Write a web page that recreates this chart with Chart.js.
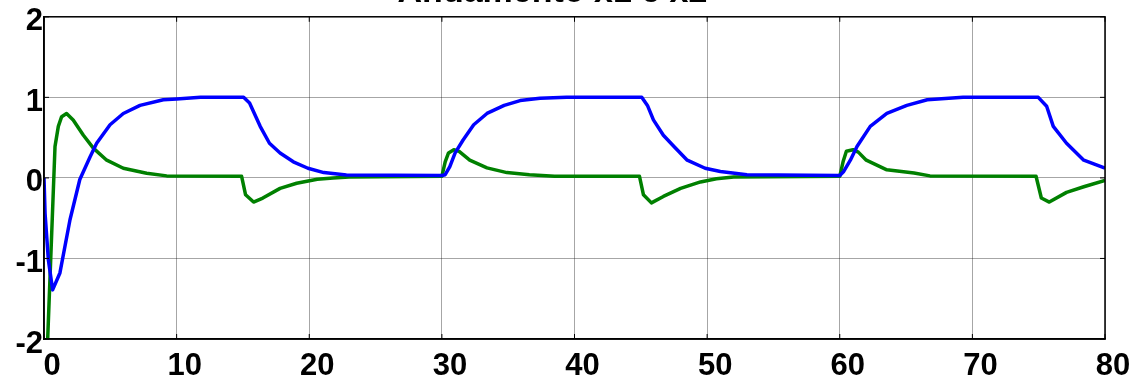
<!DOCTYPE html>
<html>
<head>
<meta charset="utf-8">
<script src="https://cdn.jsdelivr.net/npm/chart.js@4/dist/chart.umd.min.js"></script>
<style>
  body { margin: 0; background: #fff; overflow: hidden; }
  #wrap { position: relative; width: 1137px; height: 381px; overflow: hidden; }
  #chart { position: absolute; left: 0; top: -30px; }
</style>
</head>
<body>
<div id="wrap"><canvas id="chart" width="1137" height="411"></canvas></div>
<script>
// x1 (blu)
const x1Time = [0, 0.08, 0.33, 0.65, 1.2, 1.96, 2.7, 3.47, 3.97, 4.98, 5.98, 7.24, 9, 10, 11.8, 15.05,
  15.5, 16.3, 17, 17.8, 18.8, 19.9, 21.1, 22.8, 30,
  30.25, 30.6, 31, 31.6, 32.4, 33.4, 34.7, 35.9, 37.4, 39.4, 45.07,
  45.5, 45.95, 46.7, 47.5, 48.5, 49.85, 51, 53, 60,
  60.3, 60.8, 61.3, 62.3, 63.55, 65.06, 66.6, 69.3, 74.97,
  75.6, 76.1, 77.1, 78.4, 80];
const x1Val = [0, -0.44, -1.02, -1.39, -1.18, -0.52, -0.02, 0.26, 0.43, 0.66, 0.8, 0.9, 0.97, 0.98, 1.0, 1.0,
  0.93, 0.64, 0.43, 0.31, 0.2, 0.12, 0.066, 0.037, 0.03,
  0.04, 0.14, 0.31, 0.47, 0.66, 0.8, 0.9, 0.96, 0.99, 1.0, 1.0,
  0.9, 0.72, 0.53, 0.39, 0.22, 0.12, 0.08, 0.04, 0.03,
  0.08, 0.22, 0.39, 0.64, 0.8, 0.9, 0.97, 1.0, 1.0,
  0.89, 0.64, 0.43, 0.22, 0.12];

// x2 (verde)
const x2Time = [0, 0.83, 1.08, 1.33, 1.7, 2.2, 2.97, 3.72, 4.73, 5.98, 7.74, 9.25, 14.9,
  15.2, 15.8, 16.5, 17.8, 19.05, 20.6, 21.8, 23, 30,
  30.25, 30.5, 30.9, 31.3, 32.1, 33.4, 34.9, 36.6, 38.5, 44.9,
  45.2, 45.8, 46.7, 48, 49.5, 50.7, 52, 60,
  60.25, 60.5, 61, 61.4, 62, 63.55, 65.6, 66.8, 74.8,
  75.2, 75.8, 77.1, 78.4, 80];
const x2Val = [-3.2, 0.39, 0.64, 0.76, 0.8, 0.72, 0.53, 0.37, 0.22, 0.12, 0.058, 0.025, 0.02,
  -0.21, -0.3, -0.25, -0.13, -0.066, -0.016, 0.0, 0.01, 0.02,
  0.2, 0.31, 0.35, 0.33, 0.22, 0.125, 0.066, 0.04, 0.02, 0.02,
  -0.21, -0.31, -0.23, -0.13, -0.05, -0.01, 0.01, 0.02,
  0.2, 0.33, 0.35, 0.32, 0.22, 0.1, 0.06, 0.025, 0.02,
  -0.25, -0.3, -0.18, -0.11, -0.03];

const xTicks = [0, 10, 20, 30, 40, 50, 60, 70, 80];
const yTicks = [-2, -1, 0, 1, 2];

const FONT = '"Liberation Sans", Arial, sans-serif';

function toPoints(ts, vs) {
  return ts.map((t, i) => ({ x: t, y: vs[i] }));
}

// cornice nera e tacche interne stile MATLAB
const framePlugin = {
  id: 'frame',
  afterDatasetsDraw(chart) {
    const { ctx, chartArea: a, scales } = chart;
    ctx.save();
    ctx.strokeStyle = '#000';
    ctx.lineWidth = 1.5;
    ctx.strokeRect(a.left, a.top, a.right - a.left, a.bottom - a.top);
    ctx.lineWidth = 1;
    ctx.beginPath();
    xTicks.forEach(v => {
      const px = scales.x.getPixelForValue(v);
      ctx.moveTo(px, a.top); ctx.lineTo(px, a.top + 5);
      ctx.moveTo(px, a.bottom); ctx.lineTo(px, a.bottom - 5);
    });
    yTicks.forEach(v => {
      const py = scales.y.getPixelForValue(v);
      ctx.moveTo(a.left, py); ctx.lineTo(a.left + 5, py);
      ctx.moveTo(a.right, py); ctx.lineTo(a.right - 5, py);
    });
    ctx.stroke();
    ctx.restore();
  }
};

new Chart(document.getElementById('chart'), {
  type: 'line',
  data: {
    datasets: [{
      label: 'x1',
      data: toPoints(x1Time, x1Val),
      borderColor: '#0000ff',
      borderWidth: 3.5,
      borderJoinStyle: 'round',
      pointRadius: 0,
      tension: 0
    }, {
      label: 'x2',
      data: toPoints(x2Time, x2Val),
      borderColor: '#008000',
      borderWidth: 3.5,
      borderJoinStyle: 'round',
      pointRadius: 0,
      tension: 0
    }]
  },
  options: {
    responsive: false,
    animation: false,
    devicePixelRatio: 1,
    layout: { padding: { left: 0, right: 32, top: 0, bottom: 0 } },
    plugins: {
      legend: { display: false },
      tooltip: { enabled: false },
      title: {
        display: true,
        text: 'Andamento x1 e x2',
        color: '#000',
        font: { family: FONT, size: 34, weight: 'bold', lineHeight: 1.2 },
        padding: { top: 2, bottom: 4 }
      }
    },
    scales: {
      x: {
        type: 'linear',
        min: 0,
        max: 80,
        afterBuildTicks: s => { s.ticks = xTicks.map(v => ({ value: v })); },
        afterFit: s => { s.height = 42; },
        ticks: {
          color: '#000',
          font: { family: FONT, size: 31, weight: 'bold' },
          labelOffset: 8,
          padding: 9,
          maxRotation: 0
        },
        grid: { color: 'rgba(0,0,0,0.35)', lineWidth: 1, drawTicks: false },
        border: { display: true, color: '#000', width: 1.5 }
      },
      y: {
        min: -2,
        max: 2,
        afterBuildTicks: s => { s.ticks = yTicks.map(v => ({ value: v })); },
        afterFit: s => { s.width = 44; },
        ticks: {
          color: '#000',
          font: { family: FONT, size: 31, weight: 'bold' },
          labelOffset: 5,
          padding: 1
        },
        grid: { color: 'rgba(0,0,0,0.35)', lineWidth: 1, drawTicks: false },
        border: { display: true, color: '#000', width: 1.5 }
      }
    }
  },
  plugins: [framePlugin]
});
</script>
</body>
</html>
